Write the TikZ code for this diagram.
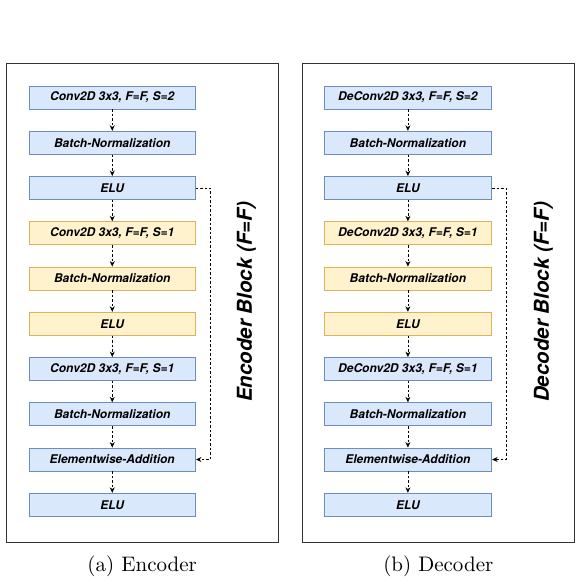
\documentclass[tikz,border=0pt]{standalone}
\usepackage{fontspec}
\newfontfamily\helv{TeX Gyre Heros}
\newfontfamily\capfont{lmroman10-regular}[Extension=.otf]
\usetikzlibrary{arrows.meta}
\definecolor{bfill}{HTML}{DAE8FC}
\definecolor{bdraw}{HTML}{6C8EBF}
\definecolor{yfill}{HTML}{FFF2CC}
\definecolor{ydraw}{HTML}{D6B656}
\definecolor{framecol}{HTML}{333333}
\tikzset{
  layerbox/.style={line width=0.9pt, minimum height=23pt,
    inner sep=0pt, font=\helv\bfseries\itshape\fontsize{12}{14}\selectfont},
  bluebox/.style={layerbox, draw=bdraw, fill=bfill},
  yelbox/.style={layerbox, draw=ydraw, fill=yfill},
  outerbox/.style={draw=framecol, line width=1pt, inner sep=0pt},
  flow/.style={dash pattern=on 2.5pt off 2pt, line width=0.7pt, -{Stealth[length=5.5pt,width=5pt]}},
  blocktitle/.style={font=\helv\bfseries\itshape\fontsize{20.5}{24}\selectfont, rotate=90},
  captext/.style={font=\capfont\fontsize{21}{24}\selectfont}
}
\begin{document}
\begin{tikzpicture}[x=1pt,y=-1pt]
\useasboundingbox (0,0) rectangle (581,586);
% outer frames
\node[outerbox, minimum width=272pt, minimum height=479pt] (lf) at (142.15,302.8) {};
\node[outerbox, minimum width=271.3pt, minimum height=479pt] (rf) at (438.35,302.8) {};
% left column
\foreach \n/\y/\s/\t in {
  1/97.5/bluebox/{Conv2D 3x3, F=F, S=2},
  2/142.75/bluebox/{Batch-Normalization},
  3/188/bluebox/{ELU},
  4/233.25/yelbox/{Conv2D 3x3, F=F, S=1},
  5/278.5/yelbox/{Batch-Normalization},
  6/323.75/yelbox/{ELU},
  7/369/bluebox/{Conv2D 3x3, F=F, S=1},
  8/414.25/bluebox/{Batch-Normalization},
  9/459.5/bluebox/{Elementwise-Addition},
  10/504.75/bluebox/{ELU}}{
  \node[\s, minimum width=166.5pt] (L\n) at (112.25,\y) {\t};
}
\foreach \n/\y/\s/\t in {
  1/97.5/bluebox/{DeConv2D 3x3, F=F, S=2},
  2/142.75/bluebox/{Batch-Normalization},
  3/188/bluebox/{ELU},
  4/233.25/yelbox/{DeConv2D 3x3, F=F, S=1},
  5/278.5/yelbox/{Batch-Normalization},
  6/323.75/yelbox/{ELU},
  7/369/bluebox/{DeConv2D 3x3, F=F, S=1},
  8/414.25/bluebox/{Batch-Normalization},
  9/459.5/bluebox/{Elementwise-Addition},
  10/504.75/bluebox/{ELU}}{
  \node[\s, minimum width=167.5pt] (R\n) at (407.9,\y) {\t};
}
\foreach \a/\b in {1/2,2/3,3/4,4/5,5/6,6/7,7/8,8/9,9/10}{
  \draw[flow] (L\a.south) -- (L\b.north);
  \draw[flow] (R\a.south) -- (R\b.north);
}
% skip connections
\coordinate (lk) at (210.7,188);
\coordinate (rk) at (506,188);
\draw[flow] (L3.east) -- (lk) |- (L9.east);
\draw[flow] (R3.east) -- (rk) |- (R9.east);
% titles
\node[blocktitle] (lt) at (246.5,302) {Encoder Block (F=F)};
\node[blocktitle] (rt) at (543.5,302) {Decoder Block (F=F)};
% captions
\node[captext] (lc) at (142.2,566) {(a) Encoder};
\node[captext] (rc) at (438.3,566) {(b) Decoder};
\end{tikzpicture}
\end{document}
